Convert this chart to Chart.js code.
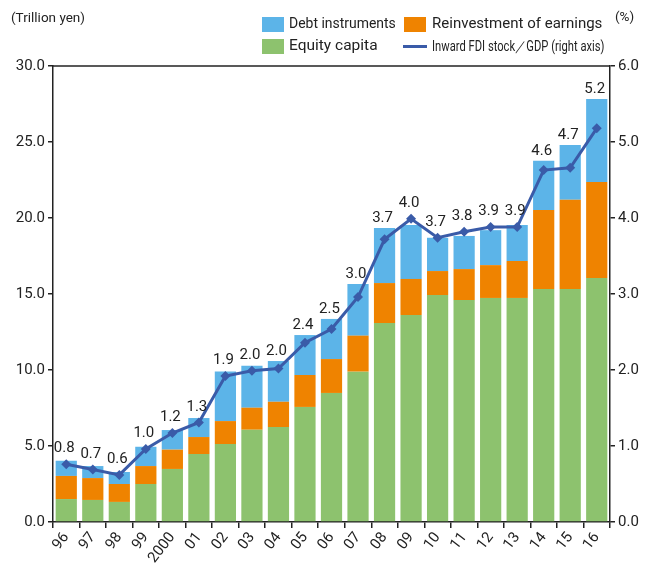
<!DOCTYPE html>
<html>
<head>
<meta charset="utf-8">
<script src="https://cdn.jsdelivr.net/npm/chart.js@4/dist/chart.umd.min.js"></script>
<style>
  html, body { margin: 0; padding: 0; background: #fff; }
  #wrap { position: relative; width: 655px; height: 567px; font-family: Roboto, "Noto Sans", sans-serif; color: #222; }
  canvas { position: absolute; left: 0; top: 0; }
  .t { position: absolute; white-space: nowrap; line-height: 1; transform-origin: left top; }
  .sq { position: absolute; width: 22px; height: 15px; }
  .ln { position: absolute; width: 24px; height: 3px; background: #3A5BA8; }
</style>
</head>
<body>
<div id="wrap">
  <canvas id="c" width="655" height="567"></canvas>
  <div class="t" style="left:11px; top:11px; font-size:13.5px;">(Trillion yen)</div>
  <div class="t" style="left:615px; top:10px; font-size:13.5px;">(%)</div>
  <div class="sq" style="left:262px; top:17px; background:#5CB4E8;"></div>
  <div class="t" style="left:289px; top:16px; font-size:15.5px; transform:scaleX(0.9);">Debt instruments</div>
  <div class="sq" style="left:404px; top:17px; background:#EF8300;"></div>
  <div class="t" style="left:432px; top:16px; font-size:15.5px; transform:scaleX(0.97);">Reinvestment of earnings</div>
  <div class="sq" style="left:262px; top:39px; background:#8DC26E;"></div>
  <div class="t" style="left:289px; top:38px; font-size:15.5px;">Equity capita</div>
  <div class="ln" style="left:403px; top:45px;"></div>
  <div class="t" style="left:432px; top:39px; font-size:14px; transform:scaleX(0.8);">Inward FDI stock／GDP (right axis)</div>
</div>
<script>
const categories = ['96','97','98','99','2000','01','02','03','04','05','06','07','08','09','10','11','12','13','14','15','16'];
const equityCapital = [1.51,1.45,1.32,2.50,3.49,4.47,5.13,6.07,6.25,7.57,8.49,9.89,13.09,13.62,14.93,14.60,14.74,14.74,15.33,15.33,16.05];
const reinvestment = [1.52,1.44,1.18,1.18,1.27,1.12,1.51,1.45,1.66,2.10,2.23,2.37,2.63,2.37,1.58,2.04,2.16,2.43,5.20,5.87,6.32];
const debtInstruments = [1.00,0.79,0.79,1.27,1.29,1.25,3.26,2.76,2.68,2.63,2.64,3.40,3.62,3.55,2.19,2.18,2.30,2.37,3.24,3.60,5.46];
const fdiToGdp = [0.76,0.69,0.62,0.96,1.17,1.31,1.92,1.99,2.02,2.36,2.54,2.96,3.72,3.99,3.74,3.82,3.88,3.88,4.63,4.66,5.18];
const leftTicks = [0,5,10,15,20,25,30];
const rightTicks = [0,1,2,3,4,5,6];

const FONT = 'Roboto, "Noto Sans", sans-serif';
const AXIS = '#222';

const topBorder = {
  id: 'topBorder',
  afterDraw(chart) {
    const {ctx, chartArea} = chart;
    ctx.save();
    ctx.strokeStyle = AXIS;
    ctx.lineWidth = 1.5;
    ctx.beginPath();
    ctx.moveTo(chartArea.left, chartArea.top);
    ctx.lineTo(chartArea.right, chartArea.top);
    ctx.stroke();
    ctx.restore();
  }
};

const valueLabels = {
  id: 'valueLabels',
  afterDatasetsDraw(chart) {
    const {ctx} = chart;
    const lineMeta = chart.getDatasetMeta(0);
    const topMeta = chart.getDatasetMeta(3);
    ctx.save();
    ctx.font = '15px ' + FONT;
    ctx.fillStyle = '#222';
    ctx.textAlign = 'center';
    ctx.textBaseline = 'bottom';
    fdiToGdp.forEach((v, i) => {
      const p = lineMeta.data[i];
      const b = topMeta.data[i];
      const y = Math.min(p.y - 6, b.y) - 2;
      ctx.fillText(v.toFixed(1), b.x - 2, y);
    });
    ctx.restore();
  }
};

new Chart(document.getElementById('c'), {
  data: {
    labels: categories,
    datasets: [
      { type: 'line', label: 'Inward FDI stock／GDP (right axis)', data: fdiToGdp, yAxisID: 'y1',
        borderColor: '#3A5BA8', backgroundColor: '#3A5BA8', borderWidth: 3,
        pointStyle: 'rectRot', pointRadius: 5, pointBorderWidth: 0, tension: 0, order: 0 },
      { type: 'bar', label: 'Equity capita', data: equityCapital, backgroundColor: '#8DC26E', yAxisID: 'y', order: 1 },
      { type: 'bar', label: 'Reinvestment of earnings', data: reinvestment, backgroundColor: '#EF8300', yAxisID: 'y', order: 1 },
      { type: 'bar', label: 'Debt instruments', data: debtInstruments, backgroundColor: '#5CB4E8', yAxisID: 'y', order: 1 }
    ]
  },
  options: {
    responsive: false,
    devicePixelRatio: 1,
    animation: false,
    layout: { padding: { top: 66, left: 0, right: 0, bottom: 0 } },
    datasets: { bar: { barPercentage: 0.8, categoryPercentage: 1.0, borderWidth: 0 } },
    plugins: { legend: { display: false }, tooltip: { enabled: false } },
    scales: {
      x: {
        stacked: true,
        offset: true,
        afterFit(s) { s.height = 45; },
        grid: { display: true, offset: true, drawOnChartArea: false, drawTicks: true, tickLength: 6, color: AXIS, lineWidth: 1.5 },
        border: { display: true, color: AXIS, width: 1.5 },
        ticks: { autoSkip: false, maxRotation: 52, minRotation: 52, padding: 1, color: '#222', font: { family: FONT, size: 15 } }
      },
      y: {
        stacked: true,
        position: 'left',
        min: 0, max: 30,
        afterFit(s) { s.width = 53; },
        afterBuildTicks(s) { s.ticks = leftTicks.map(v => ({ value: v })); },
        grid: { display: true, drawOnChartArea: false, drawTicks: true, tickLength: 5, color: AXIS, lineWidth: 1.5 },
        border: { display: true, color: AXIS, width: 1.5 },
        ticks: { padding: 3, color: '#222', font: { family: FONT, size: 15 }, callback: v => Number(v).toFixed(1) }
      },
      y1: {
        stacked: false,
        position: 'right',
        min: 0, max: 6,
        afterFit(s) { s.width = 45; },
        afterBuildTicks(s) { s.ticks = rightTicks.map(v => ({ value: v })); },
        grid: { display: true, drawOnChartArea: false, drawTicks: true, tickLength: 5, color: AXIS, lineWidth: 1.5 },
        border: { display: true, color: AXIS, width: 1.5 },
        ticks: { padding: 3, color: '#222', font: { family: FONT, size: 15 }, callback: v => Number(v).toFixed(1) }
      }
    }
  },
  plugins: [topBorder, valueLabels]
});
</script>
</body>
</html>
